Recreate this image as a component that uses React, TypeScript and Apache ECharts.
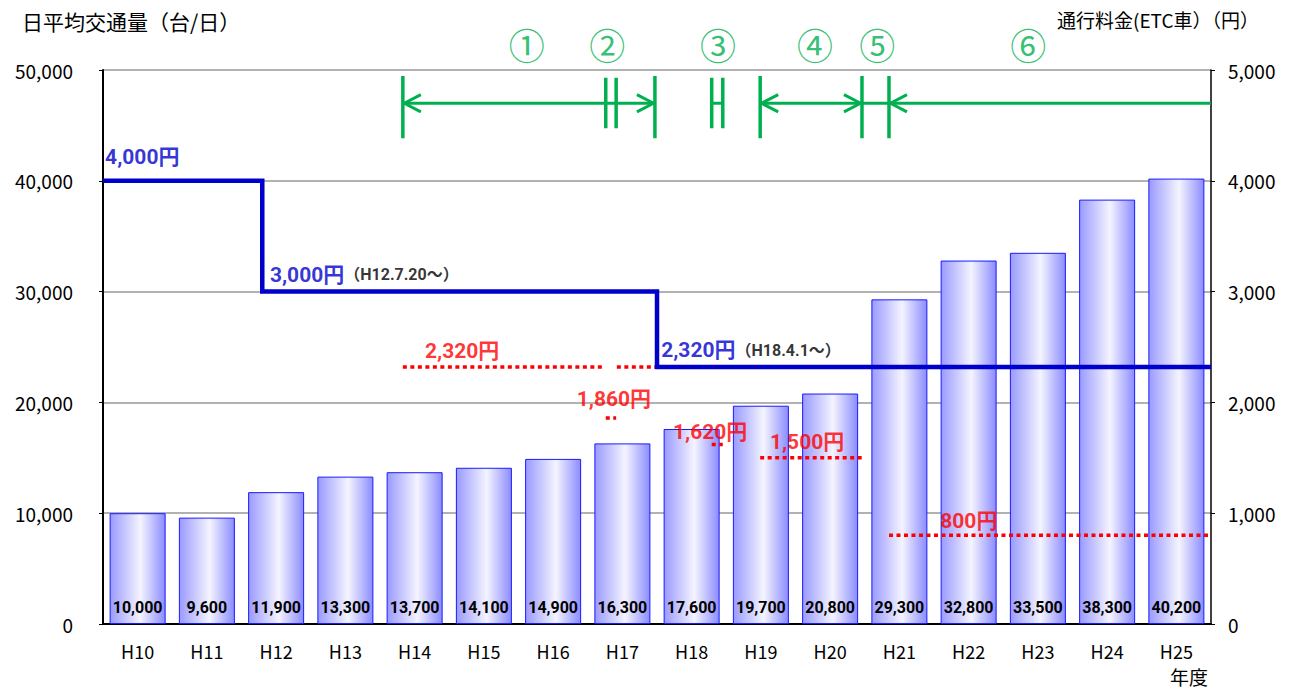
import React, { useEffect, useRef } from "react";
import * as echarts from "echarts";

// ---- data ----
const categories = ["H10", "H11", "H12", "H13", "H14", "H15", "H16", "H17", "H18", "H19", "H20", "H21", "H22", "H23", "H24", "H25"];
const traffic = [10000, 9600, 11900, 13300, 13700, 14100, 14900, 16300, 17600, 19700, 20800, 29300, 32800, 33500, 38300, 40200];

// toll (ETC) step line, x in fiscal-year units from start of H10
const tollSteps: [number, number][] = [[0, 4000], [2.3, 4000], [2.3, 3000], [8, 3000], [8, 2320], [16, 2320]];

// discount tolls (red dotted) : value and periods
const discountValues = [2320, 2320, 1860, 1620, 1500, 800];
const discountPeriods: [number, number][] = [[4.33, 7.22], [7.42, 8.0], [7.26, 7.41], [8.79, 8.95], [9.49, 10.96], [11.35, 16]];

// phase boundaries (green) in fiscal-year units
const phaseTall = [4.33, 7.97, 9.49, 10.96, 11.35];
const phaseShort = [7.26, 7.41, 8.79, 8.95];
const phaseShafts: [number, number][] = [[4.33, 7.97], [8.79, 8.95], [9.49, 16]];
const arrowLeft = [4.33, 9.49, 11.35];
const arrowRight = [7.97, 10.96];
const phaseLabels = ["①", "②", "③", "④", "⑤", "⑥"];
const phaseLabelX = [6.12, 7.28, 8.88, 10.28, 11.18, 13.36];

const FONT = "'Noto Sans CJK JP', sans-serif";
const BOLD = "Roboto, 'Noto Sans CJK JP', sans-serif";
const GREEN = "#00b050";
const BLUE = "#0000cc";

export default function App() {
  const ref = useRef<HTMLDivElement>(null);
  useEffect(() => {
    if (!ref.current) return;
    const chart = echarts.init(ref.current, null, { renderer: "svg" });

    const arrowY = 4700;
    const greenSeries: any[] = [];
    const addGreen = (pts: [number, number][], w: number) =>
      greenSeries.push({
        type: "line", xAxisIndex: 1, yAxisIndex: 1, data: pts, symbol: "none", silent: true, z: 5,
        lineStyle: { color: GREEN, width: w, cap: "butt" },
      });
    phaseShafts.forEach(([a, b]) => addGreen([[a, arrowY], [b, arrowY]], 3));
    phaseTall.forEach((x) => addGreen([[x, 4945], [x, 4385]], 3.5));
    phaseShort.forEach((x) => addGreen([[x, 4930], [x, 4475]], 3.5));
    arrowLeft.forEach((x) => addGreen([[x + 0.26, arrowY + 78], [x + 0.02, arrowY], [x + 0.26, arrowY - 78]], 3));
    arrowRight.forEach((x) => addGreen([[x - 0.26, arrowY + 78], [x - 0.02, arrowY], [x - 0.26, arrowY - 78]], 3));

    const redSeries = discountPeriods.map(([a, b], i) => ({
      type: "line", xAxisIndex: 1, yAxisIndex: 1, symbol: "none", silent: true, z: 4,
      data: [[a, discountValues[i]], [b, discountValues[i]]],
      lineStyle: { color: "#ff0000", width: 3.5, type: [4, 3.5], cap: "butt" },
    }));

    const txt = (x: number, y: number, formatter: string, rich: any) => ({
      value: [x, y],
      label: { show: true, position: "right", distance: 0, formatter, rich },
    });
    const richBlue = {
      a: { color: BLUE, fontSize: 21, fontWeight: "bold", fontFamily: BOLD },
      b: { color: "#000", fontSize: 16, fontWeight: "bold", fontFamily: BOLD },
    };
    const richRed = { r: { color: "#ff0000", fontSize: 21, fontWeight: "bold", fontFamily: BOLD } };
    const annotations: any[] = [
      txt(0.03, 4215, "{a|4,000円}", richBlue),
      txt(2.41, 3150, "{a|3,000円}{b|（H12.7.20～）}", richBlue),
      txt(8.06, 2470, "{a|2,320円}{b|（H18.4.1～）}", richBlue),
      txt(4.65, 2464, "{r|2,320円}", richRed),
      txt(6.84, 2030, "{r|1,860円}", richRed),
      txt(8.23, 1735, "{r|1,620円}", richRed),
      txt(9.63, 1640, "{r|1,500円}", richRed),
      txt(12.09, 930, "{r|800円}", richRed),
    ];
    phaseLabels.forEach((p, i) =>
      annotations.push({
        value: [phaseLabelX[i], 5000],
        label: {
          show: true, position: "top", distance: 8, formatter: p,
          color: GREEN, fontSize: 36, fontFamily: FONT,
        },
      })
    );

    chart.setOption({
      animation: false,
      grid: { left: 103, right: 82, top: 70, bottom: 67, containLabel: false },
      graphic: [
        { type: "text", left: 22, top: 10, style: { text: "日平均交通量（台/日）", fontSize: 21, fontFamily: FONT, fill: "#000" } },
        { type: "text", left: 1057, top: 10, style: { text: "通行料金(ETC車）（円）", fontSize: 19, fontFamily: FONT, fill: "#000" } },
        { type: "text", left: 1170, top: 667, style: { text: "年度", fontSize: 19, fontFamily: FONT, fill: "#000" } },
      ],
      xAxis: [
        {
          type: "category", data: categories, boundaryGap: true,
          axisLine: { lineStyle: { color: "#000", width: 2 } },
          axisTick: { inside: true, length: 4, lineStyle: { color: "#000" } },
          axisLabel: { color: "#000", fontSize: 18, fontFamily: FONT, margin: 18 },
        },
        { type: "value", min: 0, max: 16, show: false },
      ],
      yAxis: [
        {
          type: "value", min: 0, max: 50000, interval: 10000,
          axisLine: { show: true, lineStyle: { color: "#000", width: 2 } },
          axisTick: { show: true, length: 4, lineStyle: { color: "#000" } },
          splitLine: { lineStyle: { color: "#999", width: 1.5 } },
          axisLabel: {
            color: "#000", fontSize: 19, fontFamily: FONT, margin: 30,
            formatter: (v: number) => v.toLocaleString("en-US"),
          },
        },
        {
          type: "value", min: 0, max: 5000, interval: 1000, position: "right",
          axisLine: { show: true, lineStyle: { color: "#000", width: 1.5 } },
          axisTick: { show: true, length: 4, lineStyle: { color: "#000" } },
          splitLine: { show: false },
          axisLabel: {
            color: "#000", fontSize: 19, fontFamily: FONT, margin: 17,
            formatter: (v: number) => v.toLocaleString("en-US"),
          },
        },
      ],
      series: [
        {
          type: "bar", data: traffic, barWidth: 56, z: 2, silent: true,
          itemStyle: {
            color: new echarts.graphic.LinearGradient(0, 0, 1, 0, [
              { offset: 0, color: "#9a9aff" },
              { offset: 0.55, color: "#f4f4ff" },
              { offset: 1, color: "#8c8cff" },
            ]),
            borderColor: "#1a1aff", borderWidth: 1,
          },
          label: {
            show: true, position: "insideBottom", distance: 9, color: "#000",
            fontSize: 16, fontWeight: "bold", fontFamily: BOLD,
            formatter: (p: any) => Number(p.value).toLocaleString("en-US"),
          },
        },
        ...redSeries,
        {
          type: "line", xAxisIndex: 1, yAxisIndex: 1, data: tollSteps, symbol: "none", silent: true, z: 6,
          lineStyle: { color: BLUE, width: 4.5, cap: "butt", join: "miter" },
        },
        ...greenSeries,
        {
          type: "scatter", xAxisIndex: 1, yAxisIndex: 1, symbolSize: 0, silent: true, z: 10,
          data: annotations, clip: false,
        },
      ],
    });
    return () => chart.dispose();
  }, []);
  return <div ref={ref} style={{ position: "absolute", left: 0, top: 0, width: 1293, height: 691 }} />;
}
